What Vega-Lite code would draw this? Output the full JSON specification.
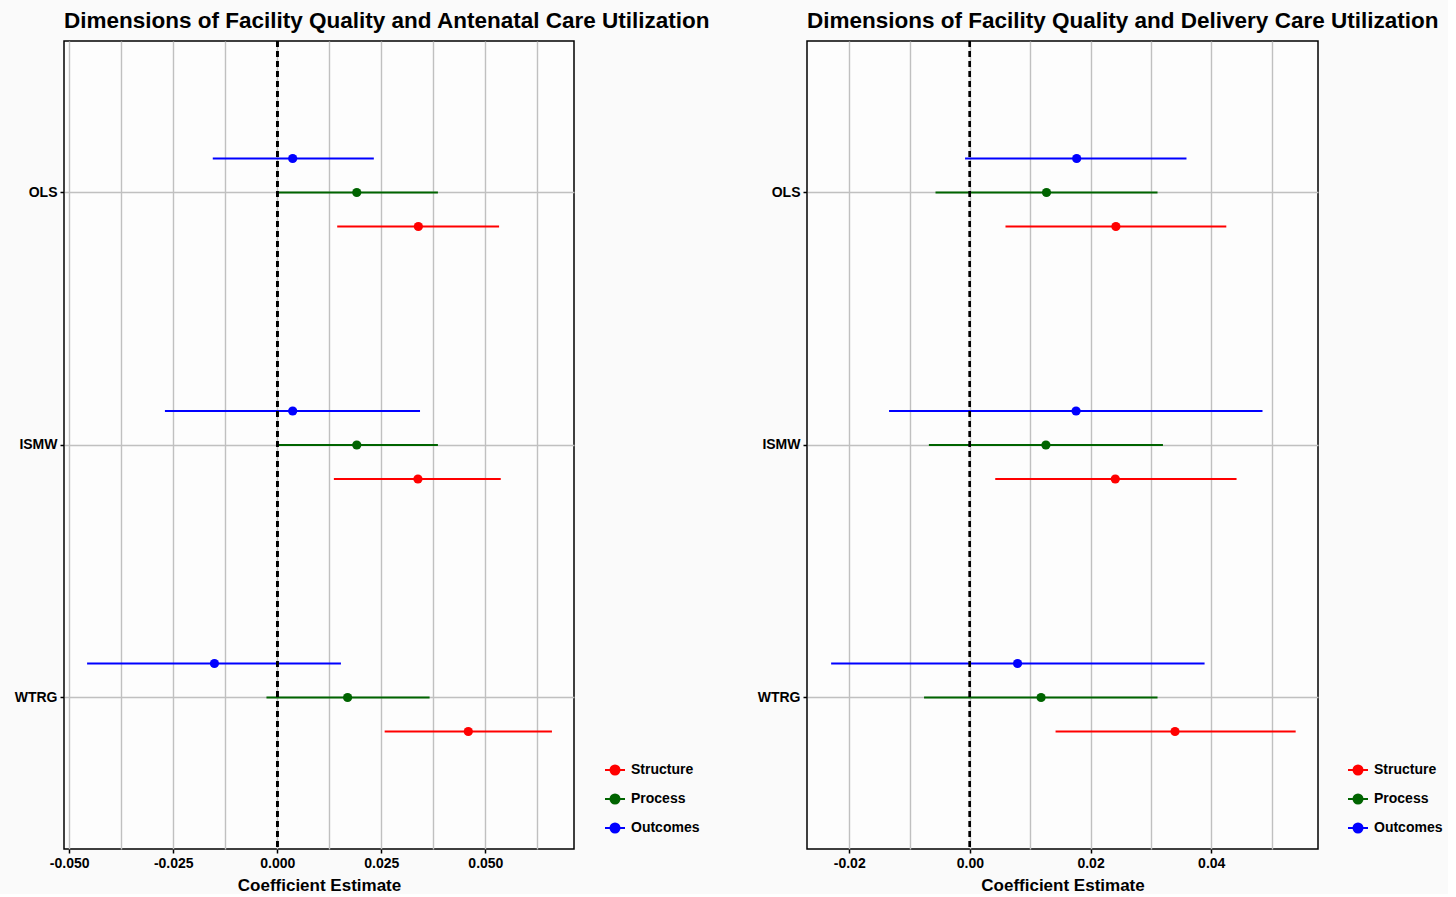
{
  "$schema": "https://vega.github.io/schema/vega-lite/v6.json",
  "background": "#fafafa",
  "padding": {"left": 7, "top": 8, "right": 4, "bottom": 0},
  "config": {
    "font": "Liberation Sans",
    "view": {"fill": "#fdfdfd", "stroke": "#000000", "strokeWidth": 1.5},
    "concat": {"spacing": 38},
    "title": {"fontSize": 22.5, "fontWeight": "bold", "anchor": "start", "color": "#000000", "offset": 8, "frame": "group"},
    "axis": {
      "domain": false,
      "gridColor": "#c0c0c0",
      "gridWidth": 1.4,
      "tickColor": "#000000",
      "tickWidth": 1.5,
      "tickSize": 4,
      "labelColor": "#000000",
      "labelFontSize": 14,
      "labelFontWeight": "bold",
      "labelPadding": 3,
      "titleColor": "#000000",
      "titleFontSize": 17,
      "titleFontWeight": "bold"
    },
    "legend": {
      "labelFontSize": 14,
      "labelFontWeight": "bold",
      "labelColor": "#000000",
      "labelOffset": 5,
      "rowPadding": 9,
      "padding": 0
    }
  },
  "data": {
    "values": [
      {"panel": "Antenatal", "method": "OLS", "group": "Outcomes", "est": 0.0037, "lo": -0.0155, "hi": 0.0232},
      {"panel": "Antenatal", "method": "OLS", "group": "Process", "est": 0.0191, "lo": -0.0003, "hi": 0.0386},
      {"panel": "Antenatal", "method": "OLS", "group": "Structure", "est": 0.0339, "lo": 0.0144, "hi": 0.0533},
      {"panel": "Antenatal", "method": "ISMW", "group": "Outcomes", "est": 0.0037, "lo": -0.0270, "hi": 0.0343},
      {"panel": "Antenatal", "method": "ISMW", "group": "Process", "est": 0.0191, "lo": -0.0001, "hi": 0.0386},
      {"panel": "Antenatal", "method": "ISMW", "group": "Structure", "est": 0.0338, "lo": 0.0136, "hi": 0.0537},
      {"panel": "Antenatal", "method": "WTRG", "group": "Outcomes", "est": -0.0151, "lo": -0.0457, "hi": 0.0153},
      {"panel": "Antenatal", "method": "WTRG", "group": "Process", "est": 0.0169, "lo": -0.0026, "hi": 0.0366},
      {"panel": "Antenatal", "method": "WTRG", "group": "Structure", "est": 0.0459, "lo": 0.0258, "hi": 0.0660},
      {"panel": "Delivery", "method": "OLS", "group": "Outcomes", "est": 0.0177, "lo": -0.0008, "hi": 0.0359},
      {"panel": "Delivery", "method": "OLS", "group": "Process", "est": 0.0127, "lo": -0.0057, "hi": 0.0311},
      {"panel": "Delivery", "method": "OLS", "group": "Structure", "est": 0.0242, "lo": 0.0059, "hi": 0.0425},
      {"panel": "Delivery", "method": "ISMW", "group": "Outcomes", "est": 0.0176, "lo": -0.0134, "hi": 0.0485},
      {"panel": "Delivery", "method": "ISMW", "group": "Process", "est": 0.0126, "lo": -0.0068, "hi": 0.0320},
      {"panel": "Delivery", "method": "ISMW", "group": "Structure", "est": 0.0241, "lo": 0.0042, "hi": 0.0442},
      {"panel": "Delivery", "method": "WTRG", "group": "Outcomes", "est": 0.0079, "lo": -0.0230, "hi": 0.0389},
      {"panel": "Delivery", "method": "WTRG", "group": "Process", "est": 0.0118, "lo": -0.0076, "hi": 0.0311},
      {"panel": "Delivery", "method": "WTRG", "group": "Structure", "est": 0.0340, "lo": 0.0142, "hi": 0.0540}
    ]
  },
  "resolve": {"scale": {"color": "independent", "x": "independent", "y": "independent", "yOffset": "independent"}, "legend": {"color": "independent"}},
  "hconcat": [
    {
      "title": "Dimensions of Facility Quality and Antenatal Care Utilization",
      "width": 510,
      "height": 808,
      "transform": [{"filter": "datum.panel === 'Antenatal'"}],
      "encoding": {
        "y": {
          "field": "method", "type": "nominal",
          "sort": ["OLS", "ISMW", "WTRG"],
          "scale": {"type": "band", "paddingInner": 0, "paddingOuter": 0.1},
          "axis": {"title": null, "grid": true, "bandPosition": 0.5, "minExtent": 56, "maxExtent": 56}
        }
      },
      "layer": [
        {
          "mark": {"type": "rule", "strokeWidth": 2},
          "encoding": {
            "x": {
              "field": "lo", "type": "quantitative",
              "scale": {"domain": [-0.05125, 0.0713], "nice": false, "zero": false},
              "axis": {
                "title": "Coefficient Estimate",
                "titlePadding": 7,
                "grid": true,
                "values": [-0.05, -0.0375, -0.025, -0.0125, 0, 0.0125, 0.025, 0.0375, 0.05, 0.0625],
                "labelExpr": "abs(datum.value*40 - round(datum.value*40)) < 0.01 ? replace(format(datum.value, '.3f'), '\u2212', '-') : ''",
                "tickOpacity": {"condition": {"test": "abs(datum.value*40 - round(datum.value*40)) < 0.01", "value": 1}, "value": 0}
              }
            },
            "x2": {"field": "hi"},
            "yOffset": {"field": "group", "type": "nominal", "sort": ["Outcomes", "Process", "Structure"], "scale": {"paddingInner": 0, "paddingOuter": 0, "range": [75.25, 177.25]}},
            "color": {
              "field": "group", "type": "nominal",
              "scale": {"domain": ["Structure", "Process", "Outcomes"], "range": ["#ff0000", "#006400", "#0000ff"]},
              "legend": {
                "title": null,
                "orient": "none",
                "legendX": 540,
                "legendY": 718,
                "symbolType": "M-1,0H1M-0.45,0A0.45,0.45,0,1,0,0.45,0A0.45,0.45,0,1,0,-0.45,0Z",
                "symbolSize": 400,
                "symbolStrokeWidth": 2,
                "encode": {
                  "symbols": {
                    "update": {
                      "fill": [{"test": "datum.value === 'Structure'", "value": "#ff0000"}, {"test": "datum.value === 'Process'", "value": "#006400"}, {"value": "#0000ff"}],
                      "stroke": [{"test": "datum.value === 'Structure'", "value": "#ff0000"}, {"test": "datum.value === 'Process'", "value": "#008000"}, {"value": "#0000ff"}],
                      "opacity": {"value": 1}
                    }
                  }
                }
              }
            }
          }
        },
        {
          "mark": {"type": "rule", "color": "#000000", "strokeWidth": 2, "strokeDash": [6, 4]},
          "encoding": {"x": {"datum": 0}, "y": null}
        },
        {
          "mark": {"type": "point", "filled": true, "size": 85, "opacity": 1},
          "encoding": {
            "x": {"field": "est", "type": "quantitative"},
            "yOffset": {"field": "group", "type": "nominal", "sort": ["Outcomes", "Process", "Structure"]},
            "color": {"field": "group", "type": "nominal"}
          }
        }
      ]
    },
    {
      "title": "Dimensions of Facility Quality and Delivery Care Utilization",
      "width": 511,
      "height": 808,
      "transform": [{"filter": "datum.panel === 'Delivery'"}],
      "encoding": {
        "y": {
          "field": "method", "type": "nominal",
          "sort": ["OLS", "ISMW", "WTRG"],
          "scale": {"type": "band", "paddingInner": 0, "paddingOuter": 0.1},
          "axis": {"title": null, "grid": true, "bandPosition": 0.5, "minExtent": 56, "maxExtent": 56}
        }
      },
      "layer": [
        {
          "mark": {"type": "rule", "strokeWidth": 2},
          "encoding": {
            "x": {
              "field": "lo", "type": "quantitative",
              "scale": {"domain": [-0.0270, 0.0577], "nice": false, "zero": false},
              "axis": {
                "title": "Coefficient Estimate",
                "titlePadding": 7,
                "grid": true,
                "values": [-0.02, -0.01, 0, 0.01, 0.02, 0.03, 0.04, 0.05],
                "labelExpr": "abs(datum.value*50 - round(datum.value*50)) < 0.01 ? replace(format(datum.value, '.2f'), '\u2212', '-') : ''",
                "tickOpacity": {"condition": {"test": "abs(datum.value*50 - round(datum.value*50)) < 0.01", "value": 1}, "value": 0}
              }
            },
            "x2": {"field": "hi"},
            "yOffset": {"field": "group", "type": "nominal", "sort": ["Outcomes", "Process", "Structure"], "scale": {"paddingInner": 0, "paddingOuter": 0, "range": [75.25, 177.25]}},
            "color": {
              "field": "group", "type": "nominal",
              "scale": {"domain": ["Structure", "Process", "Outcomes"], "range": ["#ff0000", "#006400", "#0000ff"]},
              "legend": {
                "title": null,
                "orient": "none",
                "legendX": 540,
                "legendY": 718,
                "symbolType": "M-1,0H1M-0.45,0A0.45,0.45,0,1,0,0.45,0A0.45,0.45,0,1,0,-0.45,0Z",
                "symbolSize": 400,
                "symbolStrokeWidth": 2,
                "encode": {
                  "symbols": {
                    "update": {
                      "fill": [{"test": "datum.value === 'Structure'", "value": "#ff0000"}, {"test": "datum.value === 'Process'", "value": "#006400"}, {"value": "#0000ff"}],
                      "stroke": [{"test": "datum.value === 'Structure'", "value": "#ff0000"}, {"test": "datum.value === 'Process'", "value": "#008000"}, {"value": "#0000ff"}],
                      "opacity": {"value": 1}
                    }
                  }
                }
              }
            }
          }
        },
        {
          "mark": {"type": "rule", "color": "#000000", "strokeWidth": 2, "strokeDash": [6, 4]},
          "encoding": {"x": {"datum": 0}, "y": null}
        },
        {
          "mark": {"type": "point", "filled": true, "size": 85, "opacity": 1},
          "encoding": {
            "x": {"field": "est", "type": "quantitative"},
            "yOffset": {"field": "group", "type": "nominal", "sort": ["Outcomes", "Process", "Structure"]},
            "color": {"field": "group", "type": "nominal"}
          }
        }
      ]
    }
  ]
}
